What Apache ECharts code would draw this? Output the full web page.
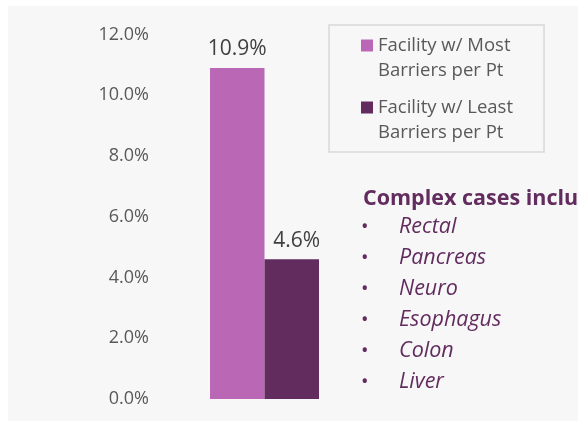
<!DOCTYPE html>
<html>
<head>
<meta charset="utf-8">
<script src="https://cdn.jsdelivr.net/npm/echarts@6/dist/echarts.min.js"></script>
<style>
  html, body { margin: 0; padding: 0; background: #fff; }
  #chart { width: 578px; height: 421px; }
</style>
</head>
<body>
<div id="chart"></div>
<script>
// data
const categories = ['Complex cases']
const seriesNames = ['Facility w/ Most\nBarriers per Pt', 'Facility w/ Least\nBarriers per Pt']
const mostBarriers = [10.9]
const leastBarriers = [4.6]
const yTicks = [0, 2, 4, 6, 8, 10, 12]
const caseTitle = 'Complex cases include:'
const caseTypes = ['Rectal', 'Pancreas', 'Neuro', 'Esophagus', 'Colon', 'Liver']

const FONT = '"Open Sans", "Noto Sans", sans-serif'
const LIGHT = '#BA68B6'
const DARK = '#622C5F'
const TEXT_GREY = '#595959'

const chart = echarts.init(document.getElementById('chart'), null, { renderer: 'canvas' })

// legend icon: square sitting on the first text line
const topSquare = 'path://M0,0h12v12h-12zM0,37h12'

const listItems = []
caseTypes.forEach((name, i) => {
  const cy = 227 + i * 31
  listItems.push({
    type: 'text', left: 361, top: cy - 10, z: 10,
    style: { text: '•', fill: DARK, font: '20px ' + FONT }
  })
  listItems.push({
    type: 'text', left: 399, top: cy - 11, z: 10,
    style: { text: name, fill: DARK, font: 'italic 21.5px ' + FONT }
  })
})

const option = {
  animation: false,
  textStyle: { fontFamily: FONT },
  grid: { left: 160, right: 209, top: 34.6, bottom: 22 },
  legend: {
    orient: 'vertical',
    left: 329,
    top: 25,
    padding: [8, 31, 7, 32],
    backgroundColor: '#f7f7f7',
    borderColor: '#d9d9d9',
    borderWidth: 1.5,
    itemWidth: 12,
    itemHeight: 37,
    itemGap: 12,
    icon: topSquare,
    textStyle: { color: TEXT_GREY, fontSize: 18.5, lineHeight: 25, fontFamily: FONT },
    data: seriesNames
  },
  xAxis: {
    type: 'category',
    data: categories,
    axisLine: { show: false },
    axisTick: { show: false },
    axisLabel: { show: false }
  },
  yAxis: {
    type: 'value',
    min: yTicks[0],
    max: yTicks[yTicks.length - 1],
    interval: 2,
    axisLine: { show: false },
    axisTick: { show: false },
    splitLine: { show: false },
    axisLabel: {
      margin: 11,
      color: TEXT_GREY,
      fontSize: 18,
      fontFamily: FONT,
      formatter: v => v.toFixed(1) + '%'
    }
  },
  series: [
    {
      name: seriesNames[0],
      type: 'bar',
      data: mostBarriers,
      barWidth: 54.5,
      barGap: '0%',
      itemStyle: { color: LIGHT },
      label: {
        show: true, position: 'top', distance: 8,
        color: '#404040', fontSize: 21, fontFamily: FONT,
        formatter: p => p.value.toFixed(1) + '%'
      }
    },
    {
      name: seriesNames[1],
      type: 'bar',
      data: leastBarriers,
      barWidth: 54.5,
      barGap: '0%',
      itemStyle: { color: DARK },
      label: {
        show: true, position: 'top', distance: 8, offset: [5, 0],
        color: '#404040', fontSize: 21, fontFamily: FONT,
        formatter: p => p.value.toFixed(1) + '%'
      }
    }
  ],
  graphic: [
    {
      type: 'rect', left: 8, top: 6, z: -100, silent: true,
      shape: { width: 570, height: 415 },
      style: { fill: '#f7f7f7' }
    },
    {
      type: 'text', left: 363, top: 188, z: 10,
      style: { text: caseTitle, fill: DARK, font: 'bold 21.5px ' + FONT }
    },
    ...listItems
  ]
}

chart.setOption(option)
window.addEventListener('resize', function () {
  chart.resize()
})
</script>
</body>
</html>
